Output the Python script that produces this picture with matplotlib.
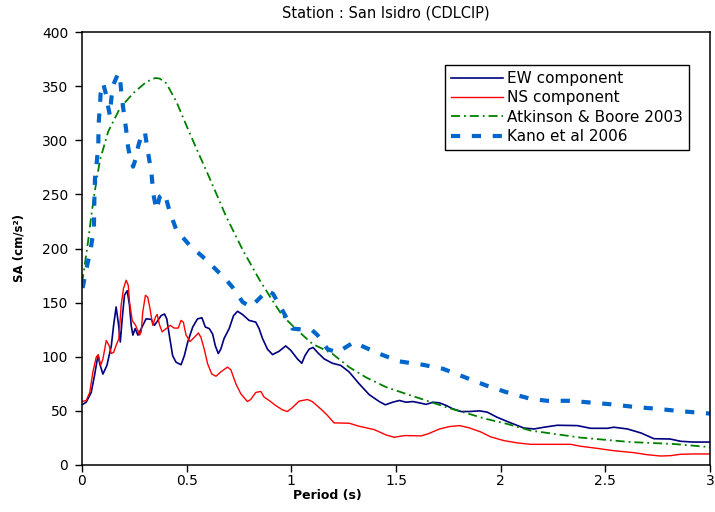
import matplotlib
matplotlib.use("Agg")
import matplotlib.pyplot as plt
from matplotlib.ticker import FuncFormatter

# ---------------- data ----------------
TITLE = "Station : San Isidro (CDLCIP)"
SERIES_NAMES = ["EW component", "NS component", "Atkinson & Boore 2003", "Kano et al 2006"]

EW_T = [0, 0.02, 0.044, 0.06, 0.076, 0.087, 0.10, 0.119, 0.14, 0.151,
        0.163, 0.175, 0.183, 0.192, 0.203, 0.216, 0.227, 0.235, 0.243, 0.254,
        0.267, 0.283, 0.306, 0.33, 0.346, 0.357, 0.378, 0.394, 0.405, 0.417,
        0.433, 0.449, 0.473, 0.489, 0.505, 0.529, 0.552, 0.573, 0.589, 0.608,
        0.624, 0.637, 0.651, 0.663, 0.679, 0.703, 0.724, 0.743, 0.767, 0.798,
        0.83, 0.846, 0.862, 0.886, 0.91, 0.941, 0.973, 0.997, 1.029, 1.05,
        1.065, 1.085, 1.104, 1.125, 1.157, 1.196, 1.236, 1.276, 1.324, 1.372,
        1.42, 1.449, 1.484, 1.516, 1.548, 1.58, 1.612, 1.644, 1.676, 1.708,
        1.74, 1.77, 1.81, 1.85, 1.90, 1.936, 1.984, 2.048, 2.11, 2.16,
        2.207, 2.27, 2.366, 2.43, 2.51, 2.54, 2.605, 2.67, 2.732, 2.81,
        2.86, 2.92, 3.0]
EW_V = [55.6, 58, 67, 83, 101, 92, 84, 92, 110, 129,
        146, 129, 113.6, 135, 157, 161, 147.5, 129, 120, 126,
        120, 126, 135, 134.6, 129, 132, 138, 139.5, 135, 120,
        101, 95, 92.6, 101, 113.6, 127.5, 135, 136, 127.5, 126,
        121, 110, 103, 107, 117, 126, 138, 142, 139, 133.6,
        132, 126, 117, 107, 102, 105, 110, 106, 98, 94,
        101, 107, 108.6, 104, 98, 94, 92, 86, 75, 65,
        58.6, 55.6, 58, 59.6, 58, 58.6, 57.4, 56, 58, 57.4,
        55, 52, 49.4, 49.4, 50, 48.8, 44, 38.9, 34.2, 33.3,
        34.9, 36.7, 36.4, 33.9, 33.9, 34.9, 33.3, 29.6, 24.3, 24,
        21.9, 21.2, 21.2]

NS_T = [0, 0.02, 0.037, 0.052, 0.068, 0.078, 0.089, 0.10, 0.116, 0.129,
        0.14, 0.151, 0.163, 0.176, 0.187, 0.198, 0.211, 0.221, 0.227, 0.24,
        0.256, 0.267, 0.275, 0.283, 0.29, 0.303, 0.314, 0.325, 0.338, 0.351,
        0.359, 0.37, 0.383, 0.402, 0.422, 0.44, 0.46, 0.473, 0.484, 0.497,
        0.516, 0.537, 0.556, 0.568, 0.584, 0.60, 0.62, 0.64, 0.663, 0.695,
        0.711, 0.735, 0.759, 0.79, 0.806, 0.83, 0.854, 0.87, 0.894, 0.925,
        0.957, 0.981, 1.005, 1.037, 1.077, 1.10, 1.14, 1.173, 1.204, 1.276,
        1.324, 1.396, 1.452, 1.492, 1.54, 1.62, 1.652, 1.708, 1.756, 1.804,
        1.85, 1.904, 1.952, 2.016, 2.08, 2.143, 2.334, 2.382, 2.46, 2.54,
        2.637, 2.70, 2.764, 2.81, 2.86, 2.92, 3.0]
NS_V = [58.6, 59.6, 67, 86, 99.7, 102, 92, 98, 115, 110.5,
        103, 104, 110.5, 116.7, 147.5, 163, 170.7, 166, 150.6, 133.6,
        129, 124, 120, 123, 141, 156.8, 155, 144.4, 129, 136.7,
        139, 129.6, 123, 126, 129, 126.5, 126.5, 133.6, 132, 120,
        114, 118, 122, 118, 107, 93.5, 84, 82, 86, 90.4,
        88, 75, 65.7, 58.6, 60.5, 67, 68, 62.7, 59.6, 55,
        51, 49.4, 53, 59, 60.5, 58.6, 51.9, 45.7, 38.9, 38.6,
        35.8, 32.7, 27.8, 25.6, 27.2, 26.9, 28.7, 33.3, 35.5, 36.4,
        34.3, 30.6, 26, 22.5, 20.4, 19.1, 19.1, 17.3, 15.4, 13.2,
        11.4, 9.5, 8.3, 8.6, 9.9, 10.2, 10.2]

AB_T = [0.0, 0.014, 0.03, 0.046, 0.062, 0.086, 0.125, 0.181, 0.244, 0.308,
        0.35, 0.371, 0.403, 0.451, 0.498, 0.546, 0.61, 0.689, 0.768, 0.848,
        0.903, 0.957, 1.02, 1.1, 1.196, 1.276, 1.356, 1.452, 1.548, 1.644,
        1.74, 1.835, 1.93, 2.03, 2.143, 2.382, 2.62, 2.828, 3.0]
AB_V = [168, 186, 208, 232.5, 254, 281.8, 308, 329.5, 343.4, 354,
        357.5, 357, 352.6, 335.6, 314, 292.6, 264.8, 229.4, 198.6, 171,
        154, 138, 126, 112, 102.8, 90.4, 81, 72, 65.7, 59.6,
        53.4, 48, 42.6, 38, 31.8, 25.3, 21.2, 19.4, 16.5]

KA_T = [0.003, 0.022, 0.041, 0.057, 0.059, 0.062, 0.07, 0.078, 0.079, 0.086,
        0.089, 0.101, 0.118, 0.125, 0.133, 0.141, 0.149, 0.173, 0.181, 0.189,
        0.20, 0.21, 0.22, 0.229, 0.244, 0.26, 0.268, 0.284, 0.30, 0.316,
        0.332, 0.34, 0.356, 0.371, 0.395, 0.419, 0.451, 0.514, 0.594, 0.689,
        0.72, 0.767, 0.806, 0.822, 0.886, 0.913, 0.957, 1.005, 1.10, 1.125,
        1.173, 1.22, 1.30, 1.324, 1.42, 1.516, 1.628, 1.724, 1.827, 1.93,
        2.027, 2.143, 2.223, 2.334, 2.446, 2.52, 2.637, 2.748, 2.86, 3.0]
KA_V = [163.5, 182, 198.6, 220, 244.8, 264.8, 278.7, 295.6, 314, 332.6,
        343.4, 352.6, 340, 331, 323, 340, 351, 361.8, 358.7, 341.8,
        325, 311, 294, 284.8, 275.6, 284.8, 294, 304.8, 308, 288,
        269.5, 251, 235.6, 247.8, 251, 234, 217, 203, 189.4, 171,
        164, 150.6, 146, 149, 161.4, 158, 143, 126, 124.4, 120,
        107, 104, 113.6, 111, 102.8, 95.7, 92.6, 88.9, 81.2, 73.5,
        67.3, 61.1, 59.3, 59.3, 57.4, 56.2, 53.7, 51.9, 49.7, 47.5]

X_TICKS = [0, 0.5, 1, 1.5, 2, 2.5, 3]
Y_TICKS = [0, 50, 100, 150, 200, 250, 300, 350, 400]

# ---------------- figure ----------------
plt.rcParams['font.family'] = ['DejaVu Sans']
W, H = 715, 512
fig = plt.figure(figsize=(W / 100, H / 100), dpi=100)
ax = fig.add_axes([82 / W, 1 - 465 / H, (710 - 82) / W, (465 - 32) / H])

ax.plot(EW_T, EW_V, color='#000080', lw=1.2, label=SERIES_NAMES[0])
ax.plot(NS_T, NS_V, color='#FF0000', lw=1.0, label=SERIES_NAMES[1])
ax.plot(AB_T, AB_V, color='#008000', lw=1.3, dashes=(5, 2.2, 1, 2.2),
        label=SERIES_NAMES[2])
ax.plot(KA_T, KA_V, color='#0066CC', lw=3.0, dashes=(2.2, 2.8),
        label=SERIES_NAMES[3])

ax.set_xlim(0, 3)
ax.set_ylim(0, 400)
ax.set_xticks(X_TICKS)
ax.set_yticks(Y_TICKS)
ax.xaxis.set_major_formatter(FuncFormatter(lambda v, p: '%g' % v))
ax.tick_params(axis='both', direction='out', length=5, width=1, labelsize=10,
               colors='black')
ax.tick_params(axis='x', pad=1.5)
ax.tick_params(axis='y', pad=5)
ax.tick_params(top=False, right=False)
for s in ax.spines.values():
    s.set_color('black')
    s.set_linewidth(1.1)

fig.text(386 / W, 1 - 13 / H, TITLE, ha='center', va='center', fontsize=10.5)
fig.text(327 / W, 1 - 496 / H, 'Period (s)', ha='center', va='center',
         fontsize=9, fontweight='bold')
fig.text(19.5 / W, 1 - 248 / H, 'SA (cm/s²)', ha='center', va='center',
         rotation=90, fontsize=8.5, fontweight='bold')

leg = ax.legend(loc='upper left', bbox_to_anchor=(445 / W, 1 - 65 / H),
                bbox_transform=fig.transFigure, borderaxespad=0,
                fontsize=11, frameon=True, fancybox=False, framealpha=1,
                edgecolor='black', handlelength=3.4, handletextpad=0.25,
                labelspacing=0.28, borderpad=0.4)
leg.get_frame().set_linewidth(1.0)

fig.savefig('out.png', dpi=100)
